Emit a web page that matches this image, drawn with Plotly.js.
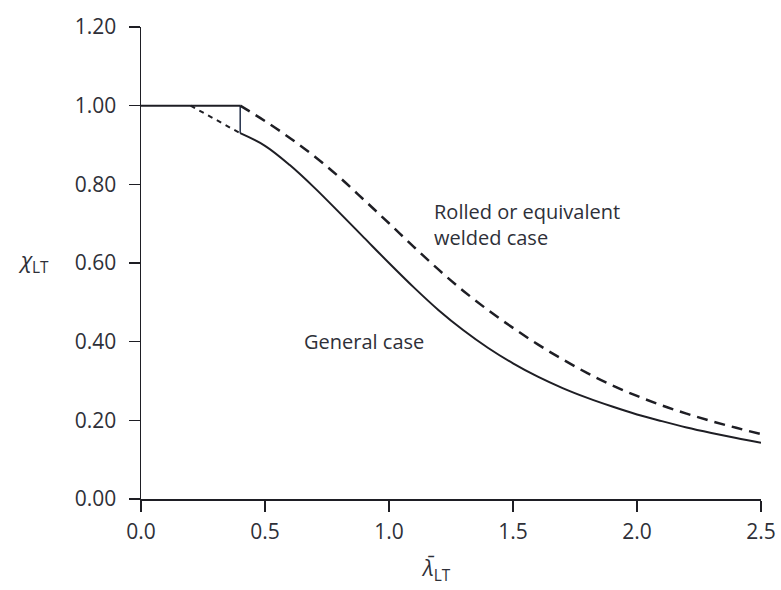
<!DOCTYPE html>
<html>
<head>
<meta charset="utf-8">
<script src="https://cdn.plot.ly/plotly-3.0.1.min.js"></script>
<style>html,body{margin:0;padding:0;background:#fff;}#chart{width:781px;height:590px;}</style>
</head>
<body>
<div id="chart"></div>
<script>
// Plateau shared by both curves
const plateauX = [0.0, 0.4];
const plateauY = [1.0, 1.0];

// General case, dotted transition part
const generalDotX = [0.2, 0.3, 0.4];
const generalDotY = [1.0, 0.965, 0.93];

// Step at lambda = 0.4
const stepX = [0.4, 0.4];
const stepY = [0.93, 1.0];

// General case (solid)
const generalX = [0.4, 0.5, 0.6, 0.7, 0.8, 0.9, 1.0, 1.1, 1.2, 1.3, 1.4, 1.5, 1.6, 1.7, 1.8, 1.9, 2.0, 2.1, 2.2, 2.3, 2.4, 2.5];
const generalY = [0.930, 0.898, 0.849, 0.791, 0.728, 0.664, 0.600, 0.538, 0.480, 0.429, 0.384, 0.345, 0.311, 0.282, 0.257, 0.235, 0.215, 0.198, 0.182, 0.168, 0.155, 0.143];

// Rolled or equivalent welded case (dashed)
const rolledX = [0.4, 0.5, 0.6, 0.7, 0.8, 0.9, 1.0, 1.1, 1.2, 1.3, 1.4, 1.5, 1.6, 1.7, 1.8, 1.9, 2.0, 2.1, 2.2, 2.3, 2.4, 2.5];
const rolledY = [1.000, 0.961, 0.918, 0.871, 0.818, 0.760, 0.701, 0.641, 0.583, 0.529, 0.480, 0.435, 0.393, 0.355, 0.320, 0.289, 0.262, 0.238, 0.217, 0.198, 0.181, 0.165];

// Tick labels
const xTicks = [0.0, 0.5, 1.0, 1.5, 2.0, 2.5];
const xTickText = ['0.0', '0.5', '1.0', '1.5', '2.0', '2.5'];
const yTicks = [0.0, 0.2, 0.4, 0.6, 0.8, 1.0, 1.2];
const yTickText = ['0.00', '0.20', '0.40', '0.60', '0.80', '1.00', '1.20'];

const ink = '#1e1e24';
const textColor = '#2e3038';
const fontFam = '"Open Sans", "DejaVu Sans", sans-serif';

const traces = [
  {x: plateauX, y: plateauY, mode: 'lines', line: {color: ink, width: 2}, hoverinfo: 'skip'},
  {x: generalDotX, y: generalDotY, mode: 'lines', line: {color: ink, width: 2, dash: '5px,5px'}, hoverinfo: 'skip'},
  {x: stepX, y: stepY, mode: 'lines', line: {color: '#23304a', width: 1.5}, hoverinfo: 'skip'},
  {x: generalX, y: generalY, mode: 'lines', line: {color: ink, width: 2, shape: 'spline', smoothing: 1}, hoverinfo: 'skip'},
  {x: rolledX, y: rolledY, mode: 'lines', line: {color: ink, width: 2.5, dash: '11px,7px', shape: 'spline', smoothing: 1}, hoverinfo: 'skip'}
];

const layout = {
  width: 781, height: 590,
  margin: {l: 141, r: 20, t: 27, b: 91},
  paper_bgcolor: '#fff', plot_bgcolor: '#fff',
  showlegend: false,
  font: {family: fontFam, color: textColor, size: 20},
  xaxis: {
    range: [0, 2.5], tickvals: xTicks, ticktext: xTickText,
    showgrid: false, zeroline: false, showline: true, linecolor: ink, linewidth: 2,
    ticks: 'outside', ticklen: 11, tickwidth: 1.5, tickcolor: ink,
    tickfont: {size: 21, color: textColor, family: fontFam}, ticklabelstandoff: 2
  },
  yaxis: {
    range: [0, 1.2], tickvals: yTicks, ticktext: yTickText,
    showgrid: false, zeroline: false, showline: true, linecolor: ink, linewidth: 1.5,
    ticks: 'outside', ticklen: 11, tickwidth: 1.5, tickcolor: ink,
    tickfont: {size: 21, color: textColor, family: fontFam}, ticklabelstandoff: 8
  },
  annotations: [
    {x: 1.175, y: 0.77, xref: 'x', yref: 'y', text: 'Rolled or equivalent<br>welded case', showarrow: false,
     xanchor: 'left', yanchor: 'top', align: 'left', font: {size: 20, color: textColor, family: fontFam}},
    {x: 0.65, y: 0.40, xref: 'x', yref: 'y', text: 'General case', showarrow: false,
     xanchor: 'left', yanchor: 'middle', align: 'left', font: {size: 20, color: textColor, family: fontFam}},
    {x: -0.174, y: 0.605, xref: 'paper', yref: 'y', text: '<i>χ</i><sub>LT</sub>', showarrow: false,
     xanchor: 'center', yanchor: 'middle', font: {size: 22, color: textColor, family: fontFam}},
    {x: 1.19, y: -0.148, xref: 'x', yref: 'paper', text: '<i>λ̄</i><sub>LT</sub>', showarrow: false,
     xanchor: 'center', yanchor: 'middle', font: {size: 22, color: textColor, family: fontFam}}
  ]
};

Plotly.newPlot('chart', traces, layout, {displayModeBar: false, staticPlot: true});
</script>
</body>
</html>
